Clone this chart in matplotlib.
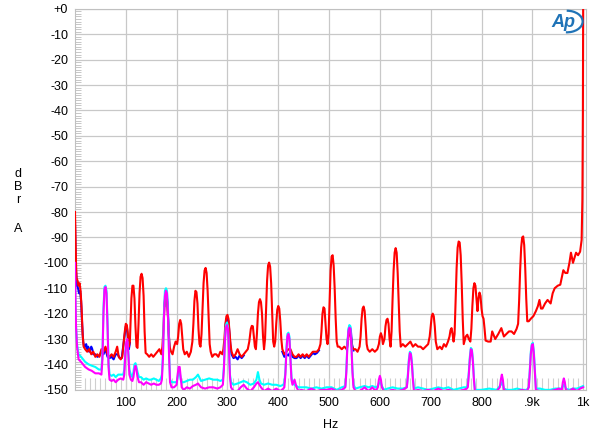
import numpy as np
import matplotlib
matplotlib.use('Agg')
import matplotlib.pyplot as plt
from matplotlib.patches import Arc

plt.rcParams['font.family'] = ['Liberation Sans', 'DejaVu Sans']

nan = np.nan

# Spectrum traces (Hz, dBr)
red_hz = [0, 1, 2, 3, 5, 7, 9, 11, 13, 15, 17, 20, 24, 28, 32, 36, 40, 44, 48, 52,
          56, 60, 64, 68, 72, 76, 80, 83, 86, 90, 93, 96, 98, 100, 102, 104, 106, 108, 109, 111,
          113, 115, 117, 119, 121, 123, 125, 127, 129, 131, 133, 135, 137, 139, 142, 146, 150, 154, 158, 162,
          166, 170, 172, 174, 176, 178, 180, 182, 184, 186, 189, 192, 195, 198, 201, 203, 205, 207, 209, 211,
          213, 216, 220, 224, 228, 231, 233, 235, 237, 239, 241, 243, 245, 247, 249, 251, 253, 255, 257, 259,
          261, 263, 265, 267, 270, 274, 278, 282, 286, 290, 292, 294, 296, 298, 300, 302, 304, 306, 308, 312,
          316, 320, 324, 328, 332, 336, 340, 343, 346, 348, 350, 352, 354, 356, 358, 360, 362, 364, 366, 368,
          370, 372, 374, 376, 378, 380, 382, 384, 386, 388, 390, 392, 394, 396, 398, 400, 402, 404, 406, 408,
          412, 416, 420, 424, 428, 432, 436, 440, 444, 448, 452, 456, 460, 464, 468, 472, 476, 480, 483, 485,
          487, 489, 491, 493, 495, 497, 499, 501, 503, 505, 507, 509, 511, 513, 515, 517, 520, 525, 530, 535,
          537, 539, 541, 543, 545, 548, 552, 556, 560, 562, 564, 566, 568, 570, 572, 574, 576, 580, 585, 590,
          595, 598, 600, 602, 604, 606, 609, 611, 613, 615, 617, 619, 621, 623, 625, 627, 629, 631, 633, 635,
          637, 639, 641, 645, 650, 655, 660, 665, 670, 675, 680, 685, 690, 695, 698, 700, 702, 704, 706, 708,
          710, 713, 718, 722, 726, 730, 734, 737, 739, 741, 743, 745, 747, 749, 751, 753, 755, 757, 759, 761,
          763, 765, 769, 772, 775, 778, 780, 782, 784, 786, 788, 790, 792, 794, 796, 798, 800, 802, 804, 806,
          808, 813, 818, 821, 827, 833, 839, 844, 849, 854, 859, 864, 869, 872, 874, 876, 878, 880, 882, 884,
          886, 888, 890, 893, 897, 902, 907, 911, 914, 917, 920, 925, 930, 936, 940, 944, 950, 955, 961, 965,
          969, 973, 976, 980, 983, 986, 990, 994, 997, 998.5, 999.5, 1000]
red_db = [-80, -90, -100, -106, -107, -109, -108, -111, -118, -128, -133, -134, -135, -134, -136, -135, -137, -136, -137, -134,
          -135, -133, -136, -137, -136, -137, -135, -133, -137, -138, -137, -131, -127, -124, -124.5, -128, -133, -131, -125, -114,
          -109, -109, -114, -125, -133, -133.5, -124, -112, -105.5, -104.3, -106, -113, -127, -135.5, -136, -137, -136, -137, -136, -135,
          -134, -136, -133, -126, -117, -113, -113, -117, -126, -133, -135, -136, -133, -131, -132, -129, -124, -122.5, -124, -129,
          -134, -136, -135, -137, -135, -131, -124, -115, -111, -111.5, -116, -126, -132, -133, -128, -118, -108, -103, -102, -104,
          -111, -122, -132, -135, -137, -136, -136, -137, -135, -136, -134, -130, -124, -121, -120.5, -122, -127, -132, -135, -137,
          -136, -134, -136, -137, -136, -135, -134, -131, -126, -124.8, -125, -129, -133, -134, -128, -120, -115.5, -114.3, -115.5, -120,
          -129, -134, -130, -119, -107, -101, -99.9, -101.5, -108, -120, -131, -133, -131, -124, -118.5, -117, -118, -123, -130, -134,
          -136, -135, -134, -134, -136, -137, -137, -136, -137, -136, -137, -136, -137, -136, -135, -135, -135, -134, -132, -127,
          -120, -117.5, -118, -124, -130, -132, -128, -116, -103, -97.5, -97, -101, -110, -122, -131, -133, -133, -134, -133, -134,
          -131, -127.5, -127, -129, -133, -134, -134, -135, -133, -129, -122, -118, -117.2, -119, -125, -132, -134, -135, -134, -135,
          -134, -132, -129, -127.7, -129, -132, -130, -125, -122.5, -122, -124, -130, -133, -127, -114, -103, -96, -94.2, -96, -104,
          -116, -127, -133, -132, -133, -132, -131, -133, -132, -133, -133, -134, -133, -132, -129, -125, -121, -120, -121, -125,
          -131, -134, -133, -134, -132, -133, -131, -129, -126.5, -125.7, -128, -131, -128, -115, -102, -94, -91.6, -92, -97, -108,
          -122, -132, -129, -128.3, -130, -131, -126, -117, -110, -108, -109, -114, -119, -114, -111.7, -113, -118, -121, -122, -126,
          -130.6, -131, -131, -127, -130, -128, -125.7, -129, -128, -127, -127, -128, -126, -124, -115, -103, -94, -90, -89.6, -93,
          -102, -114, -123, -123, -122, -121, -119, -117, -114.6, -118, -118, -116, -114.6, -116, -112, -110, -109, -108.6, -102.9, -104,
          -104, -100, -96, -100, -98, -96, -97, -95.6, -91, -75, -40, 0]

blue_hz = [0, 1, 2, 4, 6, 8, 10, 12, 14, 16, 18, 20, 22, 24, 26, 28, 30, 32, 34, 36,
           40, 44, 48, 52, 56, 60, 64, 68, 72, 76, 80, 84, 88, 92, 96, 100, 102, 104, 106, 108, nan,
           176, 178, 180, 182, 184, 186, nan,
           296, 298, 300, 302, 304, 306, 308, 312, 316, 320, 324, 328, 332, nan,
           408, 412, 416, 420, 424, 428, 432, 436, 440, 444, 448, 452, 456, 460, 464, 468, 472, 476, 480, nan,
           535, 537, 539, 541, 543, 545, 548]
blue_db = [-84, -95, -103, -109, -110, -112, -111, -115, -124, -131, -133, -133, -132, -134, -133, -135, -134, -133, -134, -136,
           -136, -137, -136.5, -135, -136, -134, -137, -137.5, -137, -138, -136, -136, -137.5, -137.5, -131, -125, -125, -129, -134, -131.5, nan,
           -117, -112.5, -112, -116, -126, -133, nan,
           -125, -122, -121.5, -123, -128, -133, -136, -137.5, -137, -138, -136.5, -137.5, -136.5, nan,
           -135, -137, -136, -136.5, -135, -137, -137.5, -137.5, -136.5, -137.5, -136.5, -137.5, -136.5, -137.5, -136.5, -135.5, -136, -135.5, -134.5, nan,
           -134, -130, -126, -125, -127, -132, -134.5]

mc_hz = [0, 1, 2, 4, 7, 12, 20, 27, 33, 40,
         47, 52, 54, 56, 58, 60, 62, 64, 66, 68,
         72, 76, 80, 85, 90, 95, 97, 99, 101, 103,
         105, 107, 110, 113, 115, 117, 119, 121, 123, 126,
         130, 135, 140, 145, 150, 155, 160, 165, 169, 171,
         173, 175, 177, 179, 181, 183, 185, 187, 190, 195,
         200, 202, 204, 206, 208, 210, 214, 220, 226, 232,
         238, 242, 248, 256, 264, 272, 280, 286, 291, 293,
         295, 297, 299, 301, 303, 305, 307, 312, 320, 326,
         332, 338, 345, 352, 357, 360, 363, 366, 372, 380,
         388, 396, 404, 410, 412, 414, 416, 418, 420, 422,
         424, 426, 428, 432, 436, 440, 445, 455, 465, 475,
         485, 495, 505, 515, 525, 532, 534, 536, 538, 540,
         542, 544, 546, 548, 552, 560, 570, 578, 585, 592,
         596, 598, 600, 602, 604, 608, 615, 625, 635, 645,
         653, 655, 657, 659, 661, 663, 665, 667, 675, 685,
         695, 705, 715, 725, 735, 745, 755, 765, 771, 773,
         775, 777, 779, 781, 783, 785, 787, 800, 815, 830,
         836, 838, 840, 842, 844, 850, 860, 870, 880, 889,
         893, 895, 897, 899, 901, 903, 905, 907, 915, 925,
         935, 945, 952, 958, 960, 962, 964, 966, 972, 980,
         988, 994, 1000]
mag_db = [-100, -115, -125, -133, -138, -139, -141, -142, -142.5, -143.5,
          -143.5, -144, -138, -120, -110.5, -109.5, -112, -125, -141, -146,
          -146.5, -146, -147, -146, -145.5, -146, -144, -136, -131, -130,
          -136, -144, -146, -146.5, -145, -142, -140.5, -142, -145, -147,
          -147, -148, -147, -147.5, -148, -147.5, -148, -148, -147.5, -146,
          -138, -122, -113, -111, -112, -120, -136, -147, -149, -149,
          -148, -144, -141, -141, -145, -149, -150, -149, -149.5, -148.5,
          -148, -147.5, -149, -149.5, -149, -149, -149.5, -149, -148, -142,
          -131, -125.5, -124.5, -126, -134, -145, -149, -150.5, -150.5, -149,
          -148, -149.5, -150.5, -149, -147.5, -147, -148, -149, -150.5, -149.5,
          -150.5, -149.5, -150.5, -149.5, -149, -144, -135, -129, -128, -130,
          -138, -146, -148, -146, -149, -150.5, -150, -150.5, -149.5, -150.5,
          -150, -150, -149.5, -150.5, -150, -149, -143, -133, -127, -125.5,
          -126, -133, -143, -149, -150.5, -150.5, -149, -150.5, -149, -150.5,
          -149, -146, -144.5, -146, -149, -150.5, -150.5, -150, -150.5, -150,
          -149, -145, -139, -135.5, -136, -140, -146, -150.5, -150, -150.5,
          -150, -150.5, -149.5, -150.5, -150, -150.5, -150.5, -150, -149.5, -149,
          -144, -138, -134, -134.5, -139, -146, -150.5, -150.5, -150.5, -150.5,
          -149, -146, -144, -146, -150, -150.5, -150.5, -150.5, -150, -150.5,
          -149, -143, -136, -132.5, -132, -136, -143, -150, -150.5, -150.5,
          -150.5, -150, -149.5, -150, -147, -145.5, -147, -150, -150.5, -149.5,
          -150.5, -149.5, -149]
cyan_db = [-105, -118, -125, -132, -136, -137, -139, -140, -140.5, -141,
           -142, -142, -136, -118, -109.5, -109, -111, -123, -139, -144,
           -144.5, -144, -145, -144, -144, -144, -142, -135, -132, -131,
           -135, -142, -144, -145, -143, -140, -139.5, -141, -143, -145,
           -145, -146, -145.5, -146, -146, -145.5, -146, -146.5, -145.5, -144,
           -136, -120, -111, -110, -111, -118, -134, -146, -147, -147,
           -147, -145, -143, -143, -146, -147, -147, -146.5, -146, -146,
           -145, -144, -146.5, -146, -145.5, -146, -146, -146.5, -146, -141,
           -130, -124.5, -123.5, -125, -133, -144, -147, -148, -147.5, -147,
           -146.5, -147, -148, -147.5, -146, -143, -146, -147.5, -148, -147.5,
           -148, -148, -148.5, -148, -147, -143, -134, -128, -127.5, -129,
           -137, -145, -147, -148, -148.5, -149, -149, -149, -149.5, -149,
           -149.5, -149, -149, -150, -149, -148.5, -142, -132, -126, -124.5,
           -125, -132, -142, -148, -149.5, -149, -148.5, -149, -148.5, -149,
           -148.5, -147.5, -147, -147.5, -148.5, -150, -149.5, -149, -149.5, -149.5,
           -149, -144, -138, -135, -135.5, -139, -145, -149.5, -149, -149.5,
           -150, -149.5, -149, -149.5, -149, -150, -149.5, -149, -149, -148,
           -143, -137, -133.5, -134, -138, -145, -150, -150, -149.5, -150,
           -148.5, -148, -147, -148, -149.5, -150, -150, -149.5, -150, -150,
           -149, -142, -135, -132, -131.5, -135, -142, -149.5, -149.5, -150,
           -150, -149.5, -149.5, -149.5, -148.5, -148, -148.5, -149.5, -150, -149.5,
           -149.5, -149, -148.5]

x_ticks = [100, 200, 300, 400, 500, 600, 700, 800, 900, 1000]
x_labels = ['100', '200', '300', '400', '500', '600', '700', '800', '.9k', '1k']
y_ticks = list(range(0, -160, -10))
y_labels = ['+0'] + [str(v) for v in y_ticks[1:]]

fig = plt.figure(figsize=(6, 4.41), dpi=100)
ax = fig.add_axes([0.125, 0.116, 0.852, 0.864])

grid_c = '#c8c8c8'
# small grey marks along the bottom
ax.vlines(np.arange(20, 1000, 10), -150, -145.3, color='#cfcfcf', lw=0.8, zorder=1)

ax.plot(blue_hz, blue_db, color='#0000ff', lw=1.5, zorder=3)
ax.plot(red_hz, red_db, color='#ff0000', lw=1.5, zorder=4)
ax.plot(mc_hz, cyan_db, color='#00ffff', lw=1.5, zorder=5)
ax.plot(mc_hz, mag_db, color='#ff00ff', lw=1.5, zorder=6)

ax.set_xlim(0, 1006)
ax.set_ylim(-150, 0)
ax.set_xticks(x_ticks)
ax.set_xticklabels(x_labels)
ax.set_yticks(y_ticks)
ax.set_yticklabels(y_labels)
ax.set_yticks(np.arange(-150, 1, 1), minor=True)
ax.tick_params(axis='both', which='major', length=0, labelsize=9, pad=5)
ax.tick_params(axis='y', which='minor', direction='in', length=4, width=0.5, color='#b0b0b0')
ax.grid(True, which='major', color=grid_c, lw=0.9)
ax.set_axisbelow(True)
for s in ax.spines.values():
    s.set_color('#c0c0c0')
    s.set_linewidth(0.8)

ax.set_xlabel('Hz', fontsize=9, labelpad=7)
for letter, ypix in [('d', 174), ('B', 187), ('r', 200), ('A', 229)]:
    fig.text(18 / 600, 1 - ypix / 441, letter, fontsize=9, ha='center', va='center')

# Audio Precision logo
ax.text(962, -5.3, 'Ap', fontsize=13, fontweight='bold', fontstyle='italic',
        color='#1f73b7', ha='center', va='center', zorder=7)
ax.add_patch(Arc((968, -5.0), 62, 8.5, theta1=-115, theta2=95, color='#1f73b7', lw=1.6, zorder=7))

fig.savefig('out.png', dpi=100)
